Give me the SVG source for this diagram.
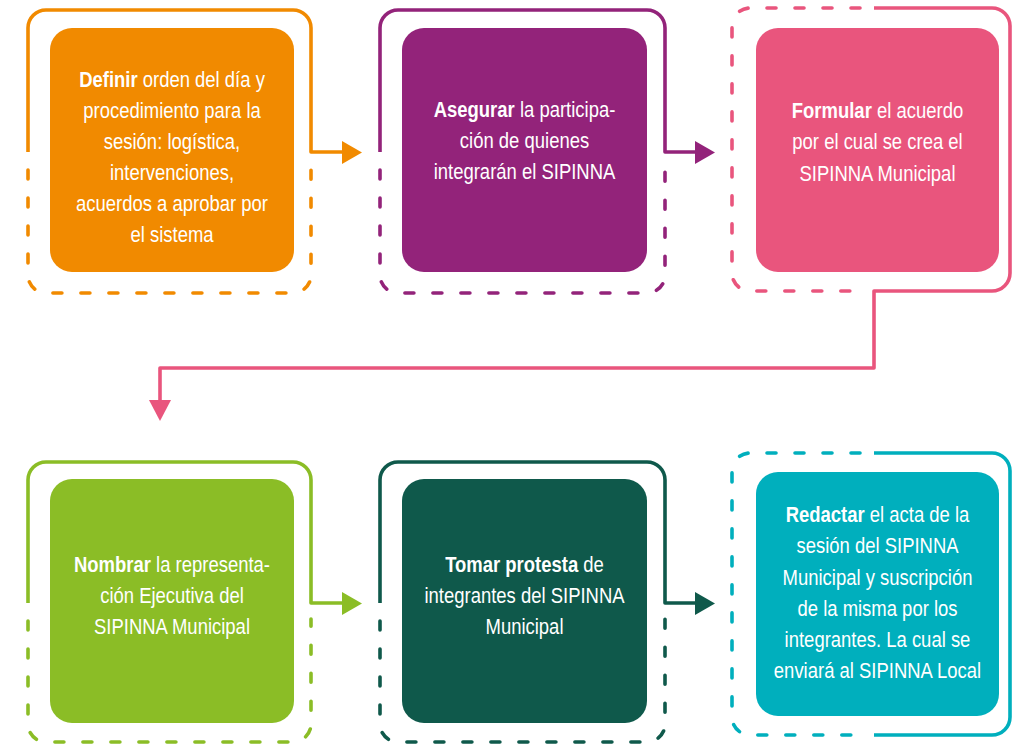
<svg xmlns="http://www.w3.org/2000/svg" width="1013" height="744" viewBox="0 0 1013 744">
<style>
.solid{fill:none;stroke-width:3.6;stroke-linejoin:round}
.dash{fill:none;stroke-width:3.6;stroke-dasharray:9 19;stroke-linecap:round}
.t{font-family:"Liberation Sans",Arial,sans-serif;font-size:22px;fill:#ffffff;text-anchor:middle}
.b{font-weight:bold}
</style>
<rect width="1013" height="744" fill="#ffffff"/>
<g id="node1">
<rect x="50" y="28" width="244" height="244" rx="22" fill="#F18A00"/>
<path class="dash" stroke="#F18A00" d="M28,170 V275 A18,18 0 0 0 46,293 H293 A18,18 0 0 0 311,275 V168"/>
<g transform="translate(172 0) scale(0.84 1)">
<text class="t" x="0" y="87"><tspan class="b">Definir</tspan> orden del día y</text>
<text class="t" x="0" y="118">procedimiento para la</text>
<text class="t" x="0" y="149">sesión: logística,</text>
<text class="t" x="0" y="180">intervenciones,</text>
<text class="t" x="0" y="211">acuerdos a aprobar por</text>
<text class="t" x="0" y="242">el sistema</text>
</g>
</g>
<g id="node2">
<rect x="402" y="28" width="245" height="244" rx="22" fill="#93237A"/>
<path class="dash" stroke="#93237A" d="M380,170 V275 A18,18 0 0 0 398,293 H647 A18,18 0 0 0 665,275 V168"/>
<g transform="translate(524.5 0) scale(0.84 1)">
<text class="t" x="0" y="117"><tspan class="b">Asegurar</tspan> la participa-</text>
<text class="t" x="0" y="148">ción de quienes</text>
<text class="t" x="0" y="179">integrarán el SIPINNA</text>
</g>
</g>
<g id="node3">
<rect x="756" y="28" width="243" height="244" rx="22" fill="#E9557D"/>
<path class="dash" stroke="#E9557D" d="M860,8 H750 A18,18 0 0 0 732,26 V273 A18,18 0 0 0 750,291 H860"/>
<g transform="translate(877.5 0) scale(0.84 1)">
<text class="t" x="0" y="118"><tspan class="b">Formular</tspan> el acuerdo</text>
<text class="t" x="0" y="149">por el cual se crea el</text>
<text class="t" x="0" y="181">SIPINNA Municipal</text>
</g>
</g>
<g id="node4">
<rect x="50" y="479" width="244" height="244" rx="22" fill="#8BBD26"/>
<path class="dash" stroke="#8BBD26" d="M28,621 V724 A18,18 0 0 0 46,742 H293 A18,18 0 0 0 311,724 V619"/>
<g transform="translate(172 0) scale(0.84 1)">
<text class="t" x="0" y="572"><tspan class="b">Nombrar</tspan> la representa-</text>
<text class="t" x="0" y="603">ción Ejecutiva del</text>
<text class="t" x="0" y="634">SIPINNA Municipal</text>
</g>
</g>
<g id="node5">
<rect x="402" y="479" width="245" height="244" rx="22" fill="#0F594B"/>
<path class="dash" stroke="#0F594B" d="M380,621 V724 A18,18 0 0 0 398,742 H647 A18,18 0 0 0 665,724 V619"/>
<g transform="translate(524.5 0) scale(0.84 1)">
<text class="t" x="0" y="572"><tspan class="b">Tomar protesta</tspan> de</text>
<text class="t" x="0" y="603">integrantes del SIPINNA</text>
<text class="t" x="0" y="634">Municipal</text>
</g>
</g>
<g id="node6">
<rect x="756" y="472" width="243" height="244" rx="22" fill="#00AFBD"/>
<path class="dash" stroke="#00AFBD" d="M860,453 H750 A18,18 0 0 0 732,471 V717 A18,18 0 0 0 750,735 H860"/>
<g transform="translate(877.5 0) scale(0.84 1)">
<text class="t" x="0" y="522"><tspan class="b">Redactar</tspan> el acta de la</text>
<text class="t" x="0" y="553">sesión del SIPINNA</text>
<text class="t" x="0" y="585">Municipal y suscripción</text>
<text class="t" x="0" y="616">de la misma por los</text>
<text class="t" x="0" y="647">integrantes. La cual se</text>
<text class="t" x="0" y="678">enviará al SIPINNA Local</text>
</g>
</g>
<g id="connectors">
<path class="solid" stroke="#F18A00" d="M28,152 V28 A18,18 0 0 1 46,10 H293 A18,18 0 0 1 311,28 V152 H344"/>
<polygon fill="#F18A00" points="342,141 362,152.5 342,164"/>
<path class="solid" stroke="#93237A" d="M380,152 V28 A18,18 0 0 1 398,10 H647 A18,18 0 0 1 665,28 V152 H697"/>
<polygon fill="#93237A" points="695,141 715,152.5 695,164"/>
<path class="solid" stroke="#E9557D" d="M874,8 H992 A18,18 0 0 1 1010,26 V273 A18,18 0 0 1 992,291 H874 V368 H160 V402"/>
<polygon fill="#E9557D" points="149,400 160,421 171,400"/>
<path class="solid" stroke="#8BBD26" d="M28,603 V480 A18,18 0 0 1 46,462 H293 A18,18 0 0 1 311,480 V603 H344"/>
<polygon fill="#8BBD26" points="342,592 362,603.5 342,615"/>
<path class="solid" stroke="#0F594B" d="M380,603 V480 A18,18 0 0 1 398,462 H647 A18,18 0 0 1 665,480 V603 H697"/>
<polygon fill="#0F594B" points="695,592 715,603.5 695,615"/>
<path class="solid" stroke="#00AFBD" d="M874,453 H992 A18,18 0 0 1 1010,471 V717 A18,18 0 0 1 992,735 H874"/>
</g>
</svg>
